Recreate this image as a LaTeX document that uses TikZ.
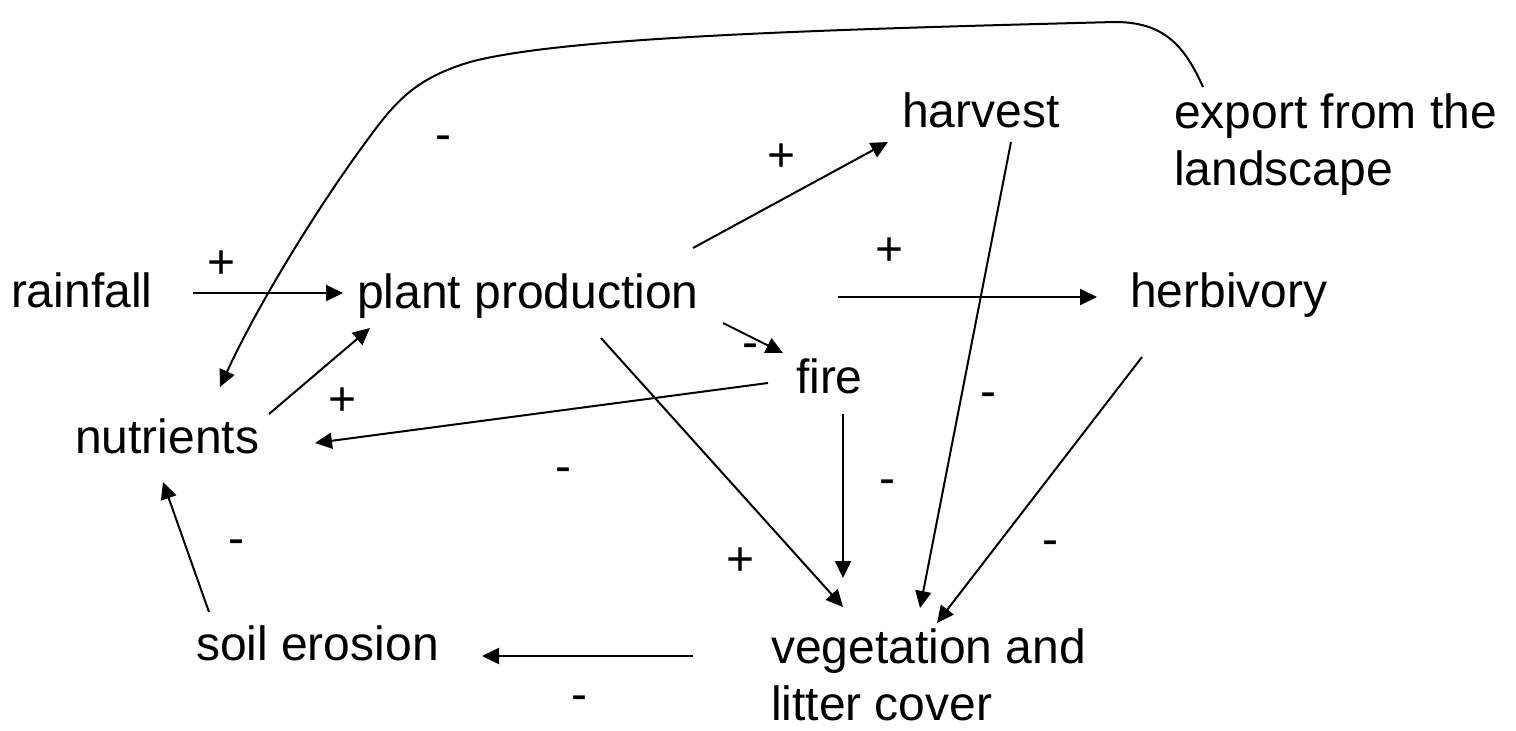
\documentclass[tikz,border=0pt]{standalone}
\usepackage{fontspec}
\setmainfont{Liberation Sans}
\usetikzlibrary{arrows.meta}
\begin{document}
\begin{tikzpicture}[x=1pt,y=-1pt,
  txt/.style={inner sep=0pt,outer sep=0pt,anchor=base west,font=\fontsize{48}{57}\selectfont,align=left},
  sgn/.style={inner sep=0pt,outer sep=0pt,font=\fontsize{48}{57}\selectfont},
  link/.style={line width=2pt,-{Triangle[length=17pt,width=16pt]}}]
\useasboundingbox (0,0) rectangle (1516,731);
% nodes
\node[txt] (rain) at (11,307) {rainfall};
\node[txt] (plant) at (357,308) {plant production};
\node[txt] (harv) at (902,127) {harvest};
\node[txt] (export) at (1174,185) {export from the\\landscape};
\node[txt] (herb) at (1130,307) {herbivory};
\node[txt] (fire) at (796,393) {fire};
\node[txt] (nutr) at (75,453) {nutrients};
\node[txt] (soil) at (196,660) {soil erosion};
\node[txt] (veg) at (771,720) {vegetation and\\litter cover};
% connector end points
\coordinate (rainOut) at (193,293);
\coordinate (plantInR) at (343,293);
\coordinate (nutrOutP) at (269,414);
\coordinate (plantInN) at (370,328);
\coordinate (fireOutN) at (768,383);
\coordinate (nutrInF) at (315,443);
\coordinate (plantOutF) at (723,323);
\coordinate (fireIn) at (783,353);
\coordinate (plantOutH) at (693,248);
\coordinate (harvIn) at (888,142);
\coordinate (plantOutHb) at (838,297);
\coordinate (herbIn) at (1097,297);
\coordinate (plantOutV) at (601,338);
\coordinate (vegInP) at (843,607);
\coordinate (fireOutV) at (843,414);
\coordinate (vegInF) at (843,578);
\coordinate (harvOut) at (1011,142);
\coordinate (vegInH) at (920,608);
\coordinate (herbOut) at (1142,357);
\coordinate (vegInHb) at (937,623);
\coordinate (vegOut) at (693,656);
\coordinate (soilIn) at (482,656);
\coordinate (soilOut) at (209,612);
\coordinate (nutrInS) at (163,482);
\coordinate (exportOut) at (1203,87);
\coordinate (nutrInE) at (220,387);
% connectors
\draw[link] (rainOut) -- (plantInR);
\draw[link] (nutrOutP) -- (plantInN);
\draw[link] (fireOutN) -- (nutrInF);
\draw[link] (plantOutF) -- (fireIn);
\draw[link] (plantOutH) -- (harvIn);
\draw[link] (plantOutHb) -- (herbIn);
\draw[link] (plantOutV) -- (vegInP);
\draw[link] (fireOutV) -- (vegInF);
\draw[link] (harvOut) -- (vegInH);
\draw[link] (herbOut) -- (vegInHb);
\draw[link] (vegOut) -- (soilIn);
\draw[link] (soilOut) -- (nutrInS);
\draw[link] (exportOut) .. controls (1185,47) and (1165,22) .. (1115,22)
  .. controls (800,30) and (560,38) .. (470,62)
  .. controls (410,80) and (392,106) .. (360,150)
  .. controls (320,205) and (260,300) .. (nutrInE);
% signs
\node[sgn] (s1) at (222,265) {+};
\node[sgn] (s2) at (443,143) {-};
\node[sgn] (s3) at (782,158) {+};
\node[sgn] (s4) at (890,252) {+};
\node[sgn] (s5) at (750,351) {-};
\node[sgn] (s6) at (343,402) {+};
\node[sgn] (s7) at (988,400) {-};
\node[sgn] (s8) at (563,475) {-};
\node[sgn] (s9) at (887,487) {-};
\node[sgn] (s10) at (236,547) {-};
\node[sgn] (s11) at (741,562) {+};
\node[sgn] (s12) at (1050,548) {-};
\node[sgn] (s13) at (579,703) {-};
\end{tikzpicture}
\end{document}
